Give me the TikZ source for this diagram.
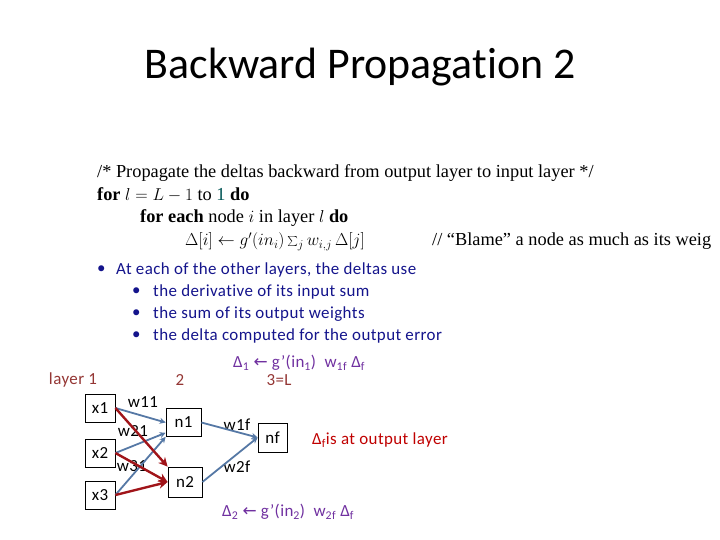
\documentclass[tikz,border=0pt]{standalone}
\usepackage{fontspec}
\setmainfont[Ligatures=NoCommon]{Carlito}
\newfontfamily\bodyfont[LetterSpace=2.5, Ligatures=NoCommon]{Carlito}
\newfontfamily\algfont{Liberation Serif}
\newfontfamily\arrowfont{DejaVu Sans}
\usetikzlibrary{arrows.meta}
\definecolor{bulletblue}{RGB}{20,20,140}
\definecolor{layerred}{RGB}{148,54,52}
\definecolor{deltapurple}{RGB}{112,48,160}
\definecolor{outred}{RGB}{192,0,0}
\definecolor{edgeblue}{RGB}{85,120,165}
\definecolor{edgered}{RGB}{160,20,25}
\definecolor{linkteal}{RGB}{0,85,85}
\tikzset{
  unit/.style={draw, fill=white, line width=0.8pt, minimum width=30bp, minimum height=28bp, inner sep=1pt, font=\bodyfont\fontsize{17}{19}\selectfont},
  fwd/.style={edgeblue, line width=1.8pt, -{Stealth[length=6pt,width=6pt]}},
  blame/.style={edgered, line width=2.4pt, -{Stealth[length=9pt,width=9pt]}},
  wlabel/.style={inner sep=0pt, font=\bodyfont\fontsize{17}{19}\selectfont},
  alg/.style={anchor=base west, inner sep=0pt, font=\algfont\fontsize{18.4}{21}\selectfont},
  bul/.style={anchor=west, inner sep=0pt, text=bulletblue, font=\bodyfont\fontsize{17}{19}\selectfont},
  delta/.style={anchor=west, inner sep=0pt, text=deltapurple, font=\bodyfont\fontsize{17}{19}\selectfont},
  layer/.style={inner sep=0pt, text=layerred, font=\bodyfont\fontsize{17}{19}\selectfont},
}

\begin{document}
\begin{tikzpicture}[x=1bp, y=-1bp]
  \useasboundingbox (0,0) rectangle (720,540);
  \fill[white] (0,0) rectangle (720,540);
  \node[font=\fontsize{44}{50}\selectfont] (title) at (360,67) {Backward Propagation 2};
  % Algorithm
  \node[alg] (comment) at (97,178) {/* Propagate the deltas backward from output layer to input layer */};
  \node[alg] (outer) at (97,201) {\textbf{for} $l = L - 1$ to \textcolor{linkteal}{1} \textbf{do}};
  \node[alg] (inner) at (140,223) {\textbf{for each} node $i$ in layer $l$ \textbf{do}};
  \node[alg] (update) at (185,246) {$\Delta[i] \leftarrow g'(in_i)\sum_j w_{i,j}\,\Delta[j]$};
  \node[alg] (blame) at (432,246) {// “Blame” a node as much as its weig};
  % Bullets
  \node[bul] (dot0) at (97,270) {•};
  \node[bul] (text0) at (116,270) {At each of the other layers, the deltas use};
  \foreach \y/\txt [count=\i] in {292/the derivative of its input sum, 314/the sum of its output weights, 336/the delta computed for the output error}{
    \node[bul] (dot\i) at (132,\y) {•};
    \node[bul] (text\i) at (153,\y) {\txt};
  }
  % Layers
  \node[layer] (layer1) at (73,380) {layer 1};
  \node[layer] (layer2) at (180,380) {2};
  \node[layer] (layer3) at (279,380) {3=L};
  % Units
  \node[unit] (x1) at (100,408) {x1};
  \node[unit] (x2) at (100,453) {x2};
  \node[unit] (x3) at (100,495) {x3};
  \node[unit, minimum width=35bp] (n1) at (183.5,422.5) {n1};
  \node[unit, minimum width=34bp, minimum height=30bp] (n2) at (185,482) {n2};
  \node[unit, minimum width=29bp, minimum height=29bp] (nf) at (272.5,437.5) {nf};
  % Weights
  \node[wlabel] (w11) at (143,402) {w11};
  \node[wlabel] (w21) at (133,431) {w21};
  \node[wlabel] (w31) at (132,466) {w31};
  \node[wlabel] (w1f) at (237,425) {w1f};
  \node[wlabel] (w2f) at (237,467) {w2f};
  % Forward
  \draw[fwd] (x1.east) -- (n1.west);
  \draw[fwd] (x2.east) -- (n1.210);
  \draw[fwd] (x3.east) -- (n1.south west);
  \draw[fwd] (n1.east) -- (nf.west);
  \draw[fwd] (n2.east) -- (nf.west);
  % Blame
  \draw[blame] (x1.east) -- (n2.north west);
  \draw[blame] (x2.east) -- (n2.west);
  \draw[blame] (x3.east) -- (n2.west);
  % Deltas
  \node[delta] (delta1) at (233,363) {Δ\textsubscript{1} {\arrowfont ←} g’(in\textsubscript{1})\ \ w\textsubscript{1f} Δ\textsubscript{f}};
  \node[delta, text=outred] (deltaf) at (312,440) {Δ\textsubscript{f}is at output layer};
  \node[delta] (delta2) at (222,512) {Δ\textsubscript{2} {\arrowfont ←} g’(in\textsubscript{2})\ \ w\textsubscript{2f} Δ\textsubscript{f}};
\end{tikzpicture}
\end{document}
